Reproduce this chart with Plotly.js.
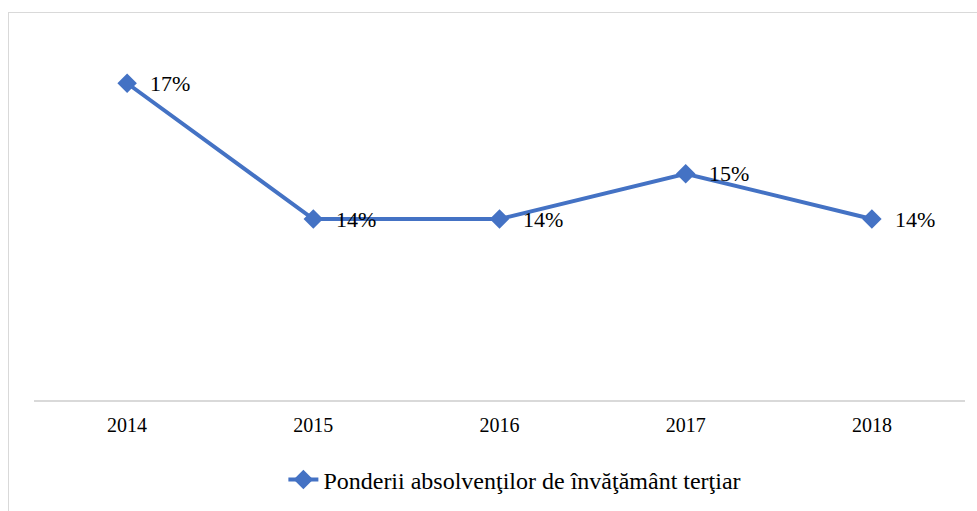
<!DOCTYPE html>
<html>
<head>
<meta charset="utf-8">
<script src="https://cdn.plot.ly/plotly-3.0.1.min.js"></script>
<style>
  html, body { margin: 0; padding: 0; background: #ffffff; overflow: hidden; }
  #frame { position: absolute; left: 8px; top: 12px; width: 1100px; height: 600px;
           border: 1px solid #d9d9d9; box-sizing: border-box; }
  #chart { position: absolute; left: 0; top: 0; width: 977px; height: 511px; }
</style>
</head>
<body>
<div id="frame"></div>
<div id="chart"></div>
<script>
// Data
const years = ['2014', '2015', '2016', '2017', '2018'];
const shares = [17.0, 14.0, 14.0, 15.0, 14.0];
const labels = ['17%', '14%', '14%', '15%', '14%'];
const seriesName = 'Ponderii absolvenţilor de învăţământ terţiar';

const blue = '#4472C4';
const fontFam = '"Liberation Serif", "Times New Roman", serif';

const trace = {
  x: years,
  y: shares,
  type: 'scatter',
  mode: 'lines+markers',
  name: seriesName,
  line: { color: blue, width: 4 },
  marker: { symbol: 'diamond', size: 15, color: blue },
  hoverinfo: 'skip'
};

// category index i positions each label at its year on the category axis
const annotations = years.map((yr, i) => ({
  x: i, y: shares[i], xref: 'x', yref: 'y',
  text: labels[i], showarrow: false,
  xanchor: 'left', yanchor: 'middle', xshift: 21,
  font: { family: fontFam, size: 22, color: '#000000' }
}));

const layout = {
  width: 977, height: 511,
  margin: { l: 34, r: 12, t: 38, b: 111 },
  paper_bgcolor: 'rgba(0,0,0,0)',
  plot_bgcolor: 'rgba(0,0,0,0)',
  showlegend: true,
  legend: {
    orientation: 'h',
    xref: 'container', yref: 'container',
    x: 0.527, xanchor: 'center',
    y: 1 - 480 / 511, yanchor: 'middle',
    font: { family: fontFam, size: 24, color: '#000000' },
    bgcolor: 'rgba(0,0,0,0)'
  },
  xaxis: {
    type: 'category',
    categoryorder: 'array', categoryarray: years,
    range: [-0.5, years.length - 0.5],
    showline: true, linecolor: '#d9d9d9', linewidth: 2,
    showgrid: false, zeroline: false,
    ticks: 'outside', ticklen: 6, tickcolor: 'rgba(0,0,0,0)',
    tickfont: { family: fontFam, size: 20, color: '#000000' },
    fixedrange: true
  },
  yaxis: {
    range: [10, 18],
    visible: false,
    showgrid: false, zeroline: false,
    fixedrange: true
  },
  annotations: annotations
};

Plotly.newPlot('chart', [trace], layout, { displayModeBar: false, staticPlot: true });
</script>
</body>
</html>
